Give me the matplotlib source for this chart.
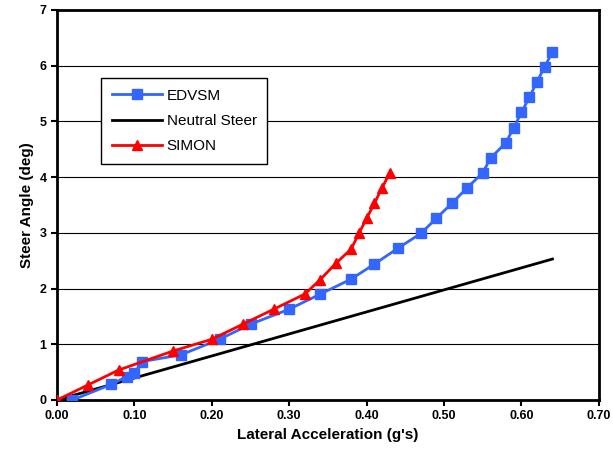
import matplotlib.pyplot as plt

plt.rcParams['font.family'] = ['Liberation Sans', 'DejaVu Sans']

# EDVSM results
edvsm_x = [0.02, 0.07, 0.09, 0.10, 0.11, 0.16, 0.21, 0.25, 0.30, 0.34, 0.38, 0.41,
           0.44, 0.47, 0.49, 0.51, 0.53, 0.55, 0.56, 0.58, 0.59, 0.60, 0.61, 0.62,
           0.63, 0.64]
edvsm_y = [0.0, 0.28, 0.42, 0.48, 0.69, 0.81, 1.09, 1.36, 1.63, 1.90, 2.17, 2.44,
           2.72, 2.99, 3.26, 3.53, 3.81, 4.08, 4.34, 4.62, 4.89, 5.16, 5.43, 5.71,
           5.98, 6.25]

# neutral steer reference line
neutral_x = [0.0, 0.64]
neutral_y = [0.0, 2.53]

# SIMON results
simon_x = [0.0, 0.04, 0.08, 0.15, 0.20, 0.24, 0.28, 0.32, 0.34, 0.36, 0.38, 0.39,
           0.40, 0.41, 0.42, 0.43]
simon_y = [0.0, 0.27, 0.54, 0.88, 1.09, 1.36, 1.63, 1.90, 2.16, 2.45, 2.71, 2.99,
           3.26, 3.53, 3.81, 4.08]

x_ticks = [0.0, 0.1, 0.2, 0.3, 0.4, 0.5, 0.6, 0.7]
y_ticks = [0, 1, 2, 3, 4, 5, 6, 7]

fig = plt.figure(figsize=(6.13, 4.53), dpi=100)
ax = fig.add_axes([0.093, 0.117, 0.884, 0.861])

ax.plot(edvsm_x, edvsm_y, color='#3366FF', lw=2, marker='s', ms=7.5,
        label='EDVSM', zorder=3)
ax.plot(neutral_x, neutral_y, color='black', lw=2, label='Neutral Steer', zorder=2)
ax.plot(simon_x, simon_y, color='#FF0000', lw=2, marker='^', ms=7.5,
        label='SIMON', zorder=4)

ax.set_xlim(0, 0.7)
ax.set_ylim(0, 7)
ax.set_xticks(x_ticks)
ax.set_xticklabels(['%.2f' % v for v in x_ticks])
ax.set_yticks(y_ticks)
ax.yaxis.grid(True, color='black', lw=0.8)
ax.set_axisbelow(True)

for s in ax.spines.values():
    s.set_linewidth(2)
ax.tick_params(direction='out', length=4, width=1.5, labelsize=9)
for lbl in ax.get_xticklabels() + ax.get_yticklabels():
    lbl.set_fontweight('bold')

ax.set_xlabel("Lateral Acceleration (g's)", fontsize=11, fontweight='bold')
ax.set_ylabel('Steer Angle (deg)', fontsize=11, fontweight='bold')

leg = ax.legend(loc='upper left', bbox_to_anchor=(0.081, 0.826), borderaxespad=0,
                fancybox=False, edgecolor='black', framealpha=1, fontsize=11,
                handlelength=3.3, handletextpad=0.3, borderpad=0.7,
                labelspacing=0.75)
leg.get_frame().set_linewidth(1)

fig.savefig('out.png', dpi=100)
